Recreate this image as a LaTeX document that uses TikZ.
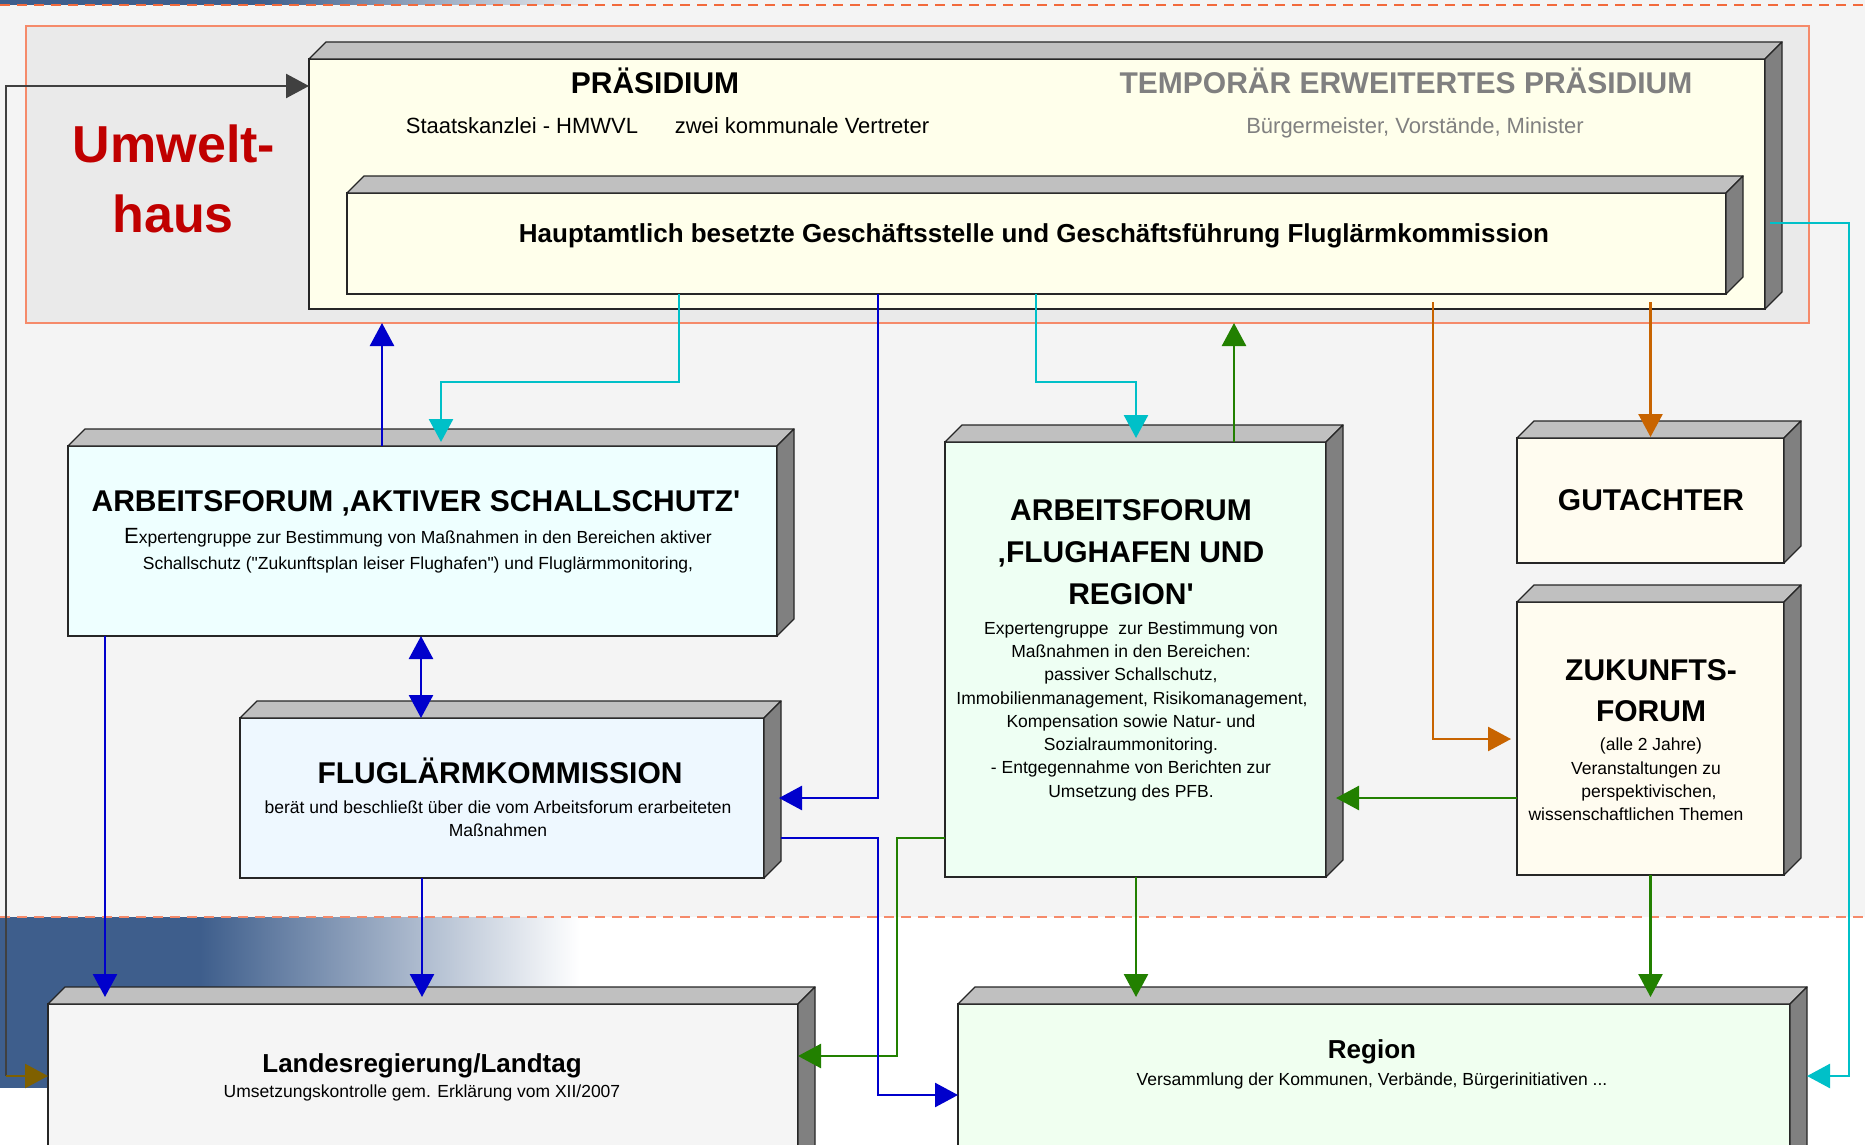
\documentclass[tikz,border=0pt]{standalone}
\usepackage{fontspec}
\setmainfont{Liberation Sans}[Ligatures=TeXOff]
\usetikzlibrary{arrows.meta,calc}
\definecolor{cbg}{HTML}{F4F4F4}
\definecolor{cumwf}{HTML}{EAEAEA}
\definecolor{cumw}{HTML}{F58A6A}
\definecolor{cdash}{HTML}{F26A3C}
\definecolor{cgrad}{HTML}{3E5E8C}
\definecolor{cyel}{HTML}{FFFFEB}
\definecolor{caas}{HTML}{EEFFFF}
\definecolor{cflk}{HTML}{EEF8FF}
\definecolor{cafr}{HTML}{EEFFF3}
\definecolor{cbeige}{HTML}{FFFCF0}
\definecolor{clr}{HTML}{F5F5F5}
\definecolor{creg}{HTML}{F0FFF0}
\definecolor{ctop}{HTML}{C0C0C0}
\definecolor{cside}{HTML}{808080}
\definecolor{cblue}{HTML}{0000CC}
\definecolor{ccyan}{HTML}{00C0C8}
\definecolor{cgreen}{HTML}{228000}
\definecolor{corg}{HTML}{C86400}
\definecolor{cdgray}{HTML}{404040}
\definecolor{cbrown}{HTML}{7F6000}
\definecolor{cred}{HTML}{C00000}
\definecolor{cgraytxt}{HTML}{808080}
\newcommand\fs[1]{\fontsize{#1}{#1}\selectfont}
\newcommand\dep{17}
\tikzset{
  front/.style={draw=black!85, line width=1.3pt, inner sep=0pt, outer sep=0pt},
  topface/.style={draw=black!85, fill=ctop, line width=1.3pt, line join=round},
  sideface/.style={draw=black!85, fill=cside, line width=1.3pt, line join=round},
  conn/.style={line width=2.6pt},
  >={Triangle[length=23pt,width=24pt]},
  ttl/.style={anchor=base, inner sep=0pt, font=\fs{30}\bfseries},
  bdy/.style={anchor=base, inner sep=0pt, font=\fs{17.5}},
  dashln/.style={draw=cdash, line width=2pt, dash pattern=on 10pt off 7pt}
}
\newcommand\tdbox[6]{%
  \node[front, fill=#6, minimum width={(#4)-(#2)}, minimum height={(#5)-(#3)}, anchor=north west] (#1) at (#2,#3) {};
  \filldraw[topface] (#1.north west) -- ++(\dep,-\dep) -- ++({(#4)-(#2)},0) -- (#1.north east) -- cycle;
  \filldraw[sideface] (#1.north east) -- ++(\dep,-\dep) -- ++(0,{(#5)-(#3)}) -- (#1.south east) -- cycle;
}
\begin{document}
\begin{tikzpicture}[x=1pt,y=-1pt]
\useasboundingbox (0,0) rectangle (1865,1145);
\clip (0,0) rectangle (1865,1145);
% background
\fill[white] (0,0) rectangle (1865,1145);
\fill[cbg] (0,0) rectangle (1865,917);
\fill[cgrad] (0,0) rectangle (260,5);
\shade[left color=cgrad, right color=cbg] (260,0) rectangle (600,5);
\fill[cgrad] (0,917) rectangle (200,1088);
\shade[left color=cgrad, right color=white] (200,917) rectangle (580,1088);
\draw[dashln] (0,5) -- (1865,5);
\draw[dashln, draw=cumw] (0,917) -- (1865,917);
% Umwelthaus area
\node[draw=cumw, fill=cumwf, line width=1.5pt, inner sep=0pt, outer sep=0pt, minimum width=1783, minimum height=297, anchor=north west] (umw) at (26,26) {};
\node[anchor=base, inner sep=0pt, font=\fs{52}\bfseries, text=cred] (umw1) at (174,162) {Umwelt-};
\node[anchor=base, inner sep=0pt, font=\fs{52}\bfseries, text=cred] (umw2) at (173,232) {haus};
% boxes
\tdbox{pra}{309}{59}{1765}{309}{cyel}
\tdbox{gs}{347}{193}{1726}{294}{cyel}
\tdbox{aas}{68}{446}{777}{636}{caas}
\tdbox{flk}{240}{718}{764}{878}{cflk}
\tdbox{afr}{945}{442}{1326}{877}{cafr}
\tdbox{gut}{1517}{438}{1784}{563}{cbeige}
\tdbox{zuk}{1517}{602}{1784}{875}{cbeige}
\tdbox{lr}{48}{1004}{798}{1175}{clr}
\tdbox{reg}{958}{1004}{1790}{1175}{creg}
% texts
\node[ttl] (praT) at (655,94) {PRÄSIDIUM};
\node[anchor=base, inner sep=0pt, font=\fs{22}] (praA) at (522,133) {Staatskanzlei - HMWVL};
\node[anchor=base, inner sep=0pt, font=\fs{22}] (praB) at (802,133) {zwei kommunale Vertreter};
\node[ttl, text=cgraytxt] (tepT) at (1406,94) {TEMPORÄR ERWEITERTES PRÄSIDIUM};
\node[anchor=base, inner sep=0pt, font=\fs{22}, text=cgraytxt] (tepA) at (1415,133) {Bürgermeister, Vorstände, Minister};
\node[anchor=base, inner sep=0pt, font=\fs{26}\bfseries] (gsT) at (1034,242) {Hauptamtlich besetzte Geschäftsstelle und Geschäftsführung Fluglärmkommission};
\node[ttl] (aasT) at (416,511) {ARBEITSFORUM ‚AKTIVER SCHALLSCHUTZ'};
\node[bdy] (aas1) at (418,543) {{\fs{22}E}xpertengruppe zur Bestimmung von Maßnahmen in den Bereichen aktiver};
\node[bdy] (aas2) at (418,569) {Schallschutz ("Zukunftsplan leiser Flughafen") und Fluglärmmonitoring,};
\node[ttl] (flkT) at (500,783) {FLUGLÄRMKOMMISSION};
\node[bdy] (flk1) at (498,813) {berät und beschließt über die vom Arbeitsforum erarbeiteten};
\node[bdy] (flk2) at (498,836) {Maßnahmen};
\node[ttl] (afrT1) at (1131,520) {ARBEITSFORUM};
\node[ttl] (afrT2) at (1131,562) {‚FLUGHAFEN UND};
\node[ttl] (afrT3) at (1131,604) {REGION'};
\node[bdy] (afr1) at (1131,634) {Expertengruppe\ \ zur Bestimmung von};
\node[bdy] (afr2) at (1131,657) {Maßnahmen in den Bereichen:};
\node[bdy] (afr3) at (1131,680) {passiver Schallschutz,};
\node[bdy] (afr4) at (1132,704) {Immobilienmanagement, Risikomanagement,};
\node[bdy] (afr5) at (1131,727) {Kompensation sowie Natur- und};
\node[bdy] (afr6) at (1131,750) {Sozialraummonitoring.};
\node[bdy] (afr7) at (1131,773) {- Entgegennahme von Berichten zur};
\node[bdy] (afr8) at (1131,797) {Umsetzung des PFB.};
\node[ttl] (gutT) at (1651,510) {GUTACHTER};
\node[ttl] (zukT1) at (1651,680) {ZUKUNFTS-};
\node[ttl] (zukT2) at (1651,721) {FORUM};
\node[bdy] (zuk1) at (1651,750) {(alle 2 Jahre)};
\node[bdy] (zuk2) at (1646,774) {Veranstaltungen zu};
\node[bdy] (zuk3) at (1649,797) {perspektivischen,};
\node[bdy] (zuk4) at (1636,820) {wissenschaftlichen Themen};
\node[anchor=base, inner sep=0pt, font=\fs{26}\bfseries] (lrT) at (422,1072) {Landesregierung/Landtag};
\node[bdy] (lr1) at (422,1097) {Umsetzungskontrolle gem. Erklärung vom XII/2007};
\node[anchor=base, inner sep=0pt, font=\fs{26}\bfseries] (regT) at (1372,1058) {Region};
\node[bdy] (reg1) at (1372,1085) {Versammlung der Kommunen, Verbände, Bürgerinitiativen ...};
% connectors
\coordinate (lft) at (6,1076);
\draw[conn, draw=cdgray, ->] (lft) |- (pra.west |- 0,86);
\draw[conn, draw=cbrown, ->] (lft) -- (lr.west |- lft);
\draw[conn, draw=cblue, ->] (aas.north -| 382,0) -- (umw.south -| 382,0);
\draw[conn, draw=ccyan, ->] (gs.south -| 679,0) -- (679,382) -| ($(aas.north -| 441,0)+(0,-4)$);
\draw[conn, draw=cblue, ->] (gs.south -| 878,0) |- ($(flk.east |- 0,798)+(15,0)$);
\draw[conn, draw=ccyan, ->] (gs.south -| 1036,0) -- (1036,382) -| ($(afr.north -| 1136,0)+(0,-4)$);
\draw[conn, draw=cgreen, ->] (afr.north -| 1234,0) -- (umw.south -| 1234,0);
\draw[conn, draw=corg, ->] ($(pra.south -| 1433,0)+(0,-7)$) |- ($(zuk.west |- 0,739)+(-6,0)$);
\draw[conn, draw=corg, ->] ($(pra.south -| gut.north)+(0,-7)$) -- ($(gut.north)+(0,-1)$);
\draw[conn, draw=ccyan, ->] ($(pra.east |- 0,223)+(5,0)$) -- (1849,223) |- ($(reg.east |- 0,1076)+(17,0)$);
\draw[conn, draw=cgreen, ->] (zuk.west |- 0,798) -- ($(afr.east |- 0,798)+(10,0)$);
\draw[conn, draw=cgreen, ->] (afr.west |- 0,838) -- (897,838) |- (lr.east |- 0,1056);
\draw[conn, draw=cblue, ->] ($(flk.east |- 0,838)+(17,0)$) -- (878,838) |- (reg.west |- 0,1095);
\draw[conn, draw=cblue, ->] (aas.south -| 105,0) -- ($(lr.north -| 105,0)+(0,-7)$);
\draw[conn, draw=cblue, <->] (aas.south -| 421,0) -- (flk.north -| 421,0);
\draw[conn, draw=cblue, ->] (flk.south -| 422,0) -- ($(lr.north -| 422,0)+(0,-7)$);
\draw[conn, draw=cgreen, ->] (afr.south -| 1136,0) -- ($(reg.north -| 1136,0)+(0,-7)$);
\draw[conn, draw=cgreen, ->] (zuk.south) -- ($(reg.north -| zuk.south)+(0,-7)$);
\end{tikzpicture}
\end{document}
